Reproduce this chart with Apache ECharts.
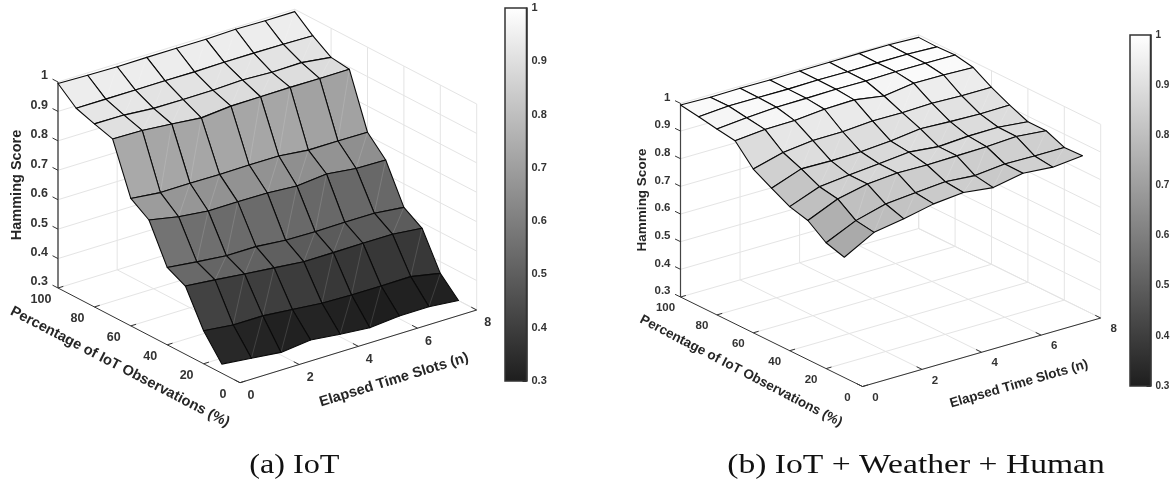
<!DOCTYPE html>
<html>
<head>
<meta charset="utf-8">
<style>html,body{margin:0;padding:0;background:#fff}#c{width:1175px;height:487px}</style>
<script src="https://cdn.jsdelivr.net/npm/echarts@6/dist/echarts.min.js"></script>
</head>
<body>
<div id="c"></div>
<script>
// ---- data ----
const slots = [0, 1, 2, 3, 4, 5, 6, 7, 8];
const percentages = [100, 90, 80, 70, 60, 50, 40, 30, 20, 10];
const zTicks = [0.3, 0.4, 0.5, 0.6, 0.7, 0.8, 0.9, 1];
const zTickLabels = ['0.3', '0.4', '0.5', '0.6', '0.7', '0.8', '0.9', '1'];
const pTicks = [0, 20, 40, 60, 80, 100];
const nTicks = [0, 2, 4, 6, 8];

const iot100 = [.995, .992, .990, .991, .991, .991, .994, .992, .992];
const iot90 = [.943, .943, .943, .944, .943, .945, .945, .944, .942];
const iot80 = [.922, .921, .913, .912, .913, .917, .912, .914, .901];
const iot70 = [.903, .901, .892, .882, .891, .892, .893, .892, .893];
const iot60 = [.733, .722, .723, .722, .723, .723, .712, .712, .711];
const iot50 = [.692, .672, .661, .661, .660, .653, .663, .651, .649];
const iot40 = [.563, .551, .541, .541, .532, .530, .531, .531, .520];
const iot30 = [.532, .522, .511, .501, .491, .491, .492, .492, .481];
const iot20 = [.412, .401, .401, .392, .382, .379, .379, .380, .360];
const iot10 = [.331, .320, .309, .320, .309, .300, .309, .310, .300];
const scoresIoT = [iot100, iot90, iot80, iot70, iot60, iot50, iot40, iot30, iot20, iot10];

const all100 = [.994, .991, .993, .992, .993, .994, .995, .995, .991];
const all90 = [.984, .992, .992, .991, .993, .992, .993, .993, .989];
const all80 = [.972, .982, .989, .990, .992, .991, .993, .993, .992];
const all70 = [.962, .972, .973, .983, .986, .969, .984, .983, .979];
const all60 = [.892, .921, .933, .934, .942, .941, .944, .940, .940];
const all50 = [.855, .894, .892, .894, .902, .915, .910, .907, .908];
const all40 = [.821, .862, .873, .883, .894, .883, .890, .891, .880];
const all30 = [.803, .850, .873, .882, .880, .882, .884, .890, .880];
const all20 = [.755, .804, .833, .843, .852, .843, .854, .852, .852];
const all10 = [.735, .794, .812, .835, .845, .832, .853, .844, .854];
const scoresAll = [all100, all90, all80, all70, all60, all50, all40, all30, all20, all10];

const zTitle = 'Hamming Score';
const pTitle = 'Percentage of IoT Observations (%)';
const nTitle = 'Elapsed Time Slots (n)';
const captionA = '(a) IoT';
const captionB = '(b) IoT + Weather + Human';

// ---- view of each 3D box (orthographic) ----
const viewA = {
  front: [240, 382.7], nEnd: [476.7, 310], pEnd: [58, 288], zPx: 294.3,
  axisZ: { color: '#6e6e6e', width: 1.8 }, zTitleAt: [17, 185], zTitleSize: 14.5, tickSize: 12.5,
  pTitleAt: [120, 367], pRot: 27.5, nTitleAt: [394, 380], nRot: 17,
  pLab: [-17, 12], nLab: [11, 13], titleSize: 14.5, scores: scoresIoT
};
const viewB = {
  front: [862.5, 386.5], nEnd: [1100.7, 318], pEnd: [680.5, 297], zPx: 276.6,
  axisZ: { color: '#444', width: 1.2 }, zTitleAt: [642.5, 200], zTitleSize: 13.5, tickSize: 11.5,
  pTitleAt: [741, 371], pRot: 27.5, nTitleAt: [1019, 384], nRot: 16.2,
  pLab: [-15, 11], nLab: [13, 11], titleSize: 13.4, scores: scoresAll
};
function proj(v, n, p, z) {
  return [
    v.front[0] + (v.nEnd[0] - v.front[0]) * n / 8 + (v.pEnd[0] - v.front[0]) * p / 100,
    v.front[1] + (v.nEnd[1] - v.front[1]) * n / 8 + (v.pEnd[1] - v.front[1]) * p / 100 - (z - 0.3) * v.zPx
  ];
}
function grayOf(z) {
  const t = Math.max(0, Math.min(1, (z - 0.3) / 0.7));
  const g = Math.round(30 + 225 * t);
  return 'rgb(' + g + ',' + g + ',' + g + ')';
}

// ---- builders ----
function segments(v) {
  const grid = [], axes = [];
  const add = (arr, a, b, style) => arr.push({ a: proj(v, ...a), b: proj(v, ...b), style });
  const g = { stroke: '#e4e4e4', lineWidth: 1 };
  zTicks.forEach(z => {
    add(grid, [0, 100, z], [8, 100, z], g);
    add(grid, [8, 100, z], [8, 0, z], g);
  });
  nTicks.forEach(n => {
    if (n > 0) add(grid, [n, 0, 0.3], [n, 100, 0.3], g);
    if (n > 0) add(grid, [n, 100, 0.3], [n, 100, 1], g);
  });
  pTicks.forEach(p => {
    if (p < 100) add(grid, [0, p, 0.3], [8, p, 0.3], g);
    add(grid, [8, p, 0.3], [8, p, 1], g);
  });
  const ax = { stroke: '#333', lineWidth: 1 };
  add(axes, [0, 0, 0.3], [8, 0, 0.3], ax);
  add(axes, [0, 0, 0.3], [0, 100, 0.3], ax);
  add(axes, [0, 100, 0.3], [0, 100, 1], { stroke: v.axisZ.color, lineWidth: v.axisZ.width });
  nTicks.forEach(n => add(axes, [n, 0, 0.3], [n, 3, 0.3], ax));
  pTicks.forEach(p => add(axes, [0, p, 0.3], [0.18, p, 0.3], ax));
  zTicks.forEach(z => add(axes, [0, 100, z], [0, 103, z], ax));
  return grid.concat(axes);
}
function faces(v) {
  const out = [];
  for (let r = 0; r < percentages.length - 1; r++) {
    for (let c = slots.length - 2; c >= 0; c--) {
      const pHi = percentages[r], pLo = percentages[r + 1], n0 = slots[c], n1 = slots[c + 1];
      out.push({
        pts: [proj(v, n0, pLo, v.scores[r + 1][c]), proj(v, n1, pLo, v.scores[r + 1][c + 1]),
              proj(v, n1, pHi, v.scores[r][c + 1]), proj(v, n0, pHi, v.scores[r][c])],
        fill: grayOf(v.scores[r + 1][c]),
        seam: c % 3 !== 0
      });
    }
  }
  return out;
}
function texts(v) {
  const out = [];
  const tick = { font: 'bold ' + v.tickSize + 'px "Liberation Sans"', fill: '#333', align: 'center' };
  zTicks.forEach((z, i) => {
    const p = proj(v, 0, 100, z);
    out.push(Object.assign({ x: p[0] - 10, y: p[1] - 6, t: zTickLabels[i], rot: 0 }, tick, { align: 'right' }));
  });
  pTicks.forEach(pv => {
    const p = proj(v, 0, pv, 0.3);
    out.push(Object.assign({ x: p[0] + v.pLab[0], y: p[1] + v.pLab[1], t: String(pv), rot: 0 }, tick));
  });
  nTicks.forEach(n => {
    const p = proj(v, n, 0, 0.3);
    out.push(Object.assign({ x: p[0] + v.nLab[0], y: p[1] + v.nLab[1], t: String(n), rot: 0 }, tick));
  });
  const big = s => 'bold ' + s + 'px "Liberation Sans"';
  out.push({ x: v.zTitleAt[0], y: v.zTitleAt[1], t: zTitle, rot: 90, font: big(v.zTitleSize), fill: '#262626', align: 'center' });
  out.push({ x: v.pTitleAt[0], y: v.pTitleAt[1], t: pTitle, rot: -v.pRot, font: big(v.titleSize), fill: '#262626', align: 'center' });
  out.push({ x: v.nTitleAt[0], y: v.nTitleAt[1], t: nTitle, rot: v.nRot, font: big(v.titleSize), fill: '#262626', align: 'center' });
  return out;
}

// ---- series ----
const lineSeries = (name, list) => ({
  type: 'custom', name, xAxisIndex: 0, yAxisIndex: 0, silent: true, animation: false, clip: false,
  data: list.map((_, i) => i),
  renderItem: (params, api) => {
    const s = list[params.dataIndex], a = api.coord(s.a), b = api.coord(s.b);
    return { type: 'line', shape: { x1: a[0], y1: a[1], x2: b[0], y2: b[1] }, style: s.style };
  }
});
const faceSeries = (name, list) => ({
  type: 'custom', name, xAxisIndex: 0, yAxisIndex: 0, silent: true, animation: false, clip: false,
  data: list.map((_, i) => i),
  renderItem: (params, api) => {
    const f = list[params.dataIndex], pts = f.pts.map(q => api.coord(q));
    const children = [{ type: 'polygon', shape: { points: pts }, style: { fill: f.fill, stroke: 'none' } }];
    if (f.seam) children.push({ type: 'line', shape: { x1: pts[0][0], y1: pts[0][1], x2: pts[2][0], y2: pts[2][1] },
      style: { stroke: 'rgba(255,255,255,0.17)', lineWidth: 0.8 } });
    children.push({ type: 'polygon', shape: { points: pts }, style: { fill: 'none', stroke: '#0a0a0a', lineWidth: 1.1, lineJoin: 'round' } });
    return { type: 'group', children };
  }
});
const textSeries = (name, list) => ({
  type: 'custom', name, xAxisIndex: 0, yAxisIndex: 0, silent: true, animation: false, clip: false,
  data: list.map((_, i) => i),
  renderItem: (params, api) => {
    const t = list[params.dataIndex], p = api.coord([t.x, t.y]);
    return { type: 'text', x: p[0], y: p[1], rotation: t.rot * Math.PI / 180, scaleX: t.sx || 1,
      style: { text: t.t, font: t.font, fill: t.fill, align: t.align, verticalAlign: 'middle' } };
  }
});
const barSeries = (xi, yi) => ({
  type: 'custom', xAxisIndex: xi, yAxisIndex: yi, silent: true, animation: false, z: 1,
  data: [0],
  renderItem: (params, api) => {
    const a = api.coord([0, 1]), b = api.coord([1, 0.3]);
    return { type: 'rect', shape: { x: a[0], y: a[1], width: b[0] - a[0], height: b[1] - a[1] },
      style: { fill: new echarts.graphic.LinearGradient(0, 0, 0, 1, [{ offset: 0, color: '#ffffff' }, { offset: 1, color: '#1e1e1e' }]) } };
  }
});
const captions = [
  { x: 294.3, y: 466, t: captionA, rot: 0, sx: 1.15, font: '28px "Liberation Serif"', fill: '#111', align: 'center' },
  { x: 916, y: 466, t: captionB, rot: 0, sx: 1.2, font: '28px "Liberation Serif"', fill: '#111', align: 'center' }
];
const hidden = { show: false };
const cbAxis = (gi, size) => ({
  type: 'value', gridIndex: gi, position: 'right', min: 0.3, max: 1, interval: 0.1,
  splitLine: hidden,
  axisLine: { show: true, onZero: false, lineStyle: { color: '#333', width: 1.5 } },
  axisTick: { show: true, inside: true, length: 4, lineStyle: { color: '#333', width: 1 } },
  axisLabel: { show: true, margin: 5, fontFamily: 'Liberation Sans', fontWeight: 'bold', fontSize: size, color: '#333',
    showMinLabel: true, showMaxLabel: true, formatter: v => String(+v.toFixed(1)) }
});
const cbX = (gi) => ({ type: 'value', gridIndex: gi, min: 0, max: 1, show: false });

const option = {
  backgroundColor: '#fff',
  animation: false,
  grid: [
    { left: 0, top: 0, width: 1175, height: 487 },
    { left: 505, top: 8, width: 21.5, height: 373, show: true, borderColor: '#333', borderWidth: 1.5, z: 3 },
    { left: 1130, top: 35, width: 20.5, height: 351, show: true, borderColor: '#333', borderWidth: 1.5, z: 3 }
  ],
  xAxis: [{ type: 'value', gridIndex: 0, min: 0, max: 1175, show: false }, cbX(1), cbX(2)],
  yAxis: [{ type: 'value', gridIndex: 0, min: 0, max: 487, inverse: true, show: false }, cbAxis(1, 11), cbAxis(2, 10)],
  series: [
    lineSeries('frameA', segments(viewA)),
    lineSeries('frameB', segments(viewB)),
    faceSeries('surfaceA', faces(viewA)),
    faceSeries('surfaceB', faces(viewB)),
    textSeries('textA', texts(viewA)),
    textSeries('textB', texts(viewB)),
    textSeries('captions', captions),
    barSeries(1, 1),
    barSeries(2, 2)
  ]
};
echarts.init(document.getElementById('c')).setOption(option);
</script>
</body>
</html>
